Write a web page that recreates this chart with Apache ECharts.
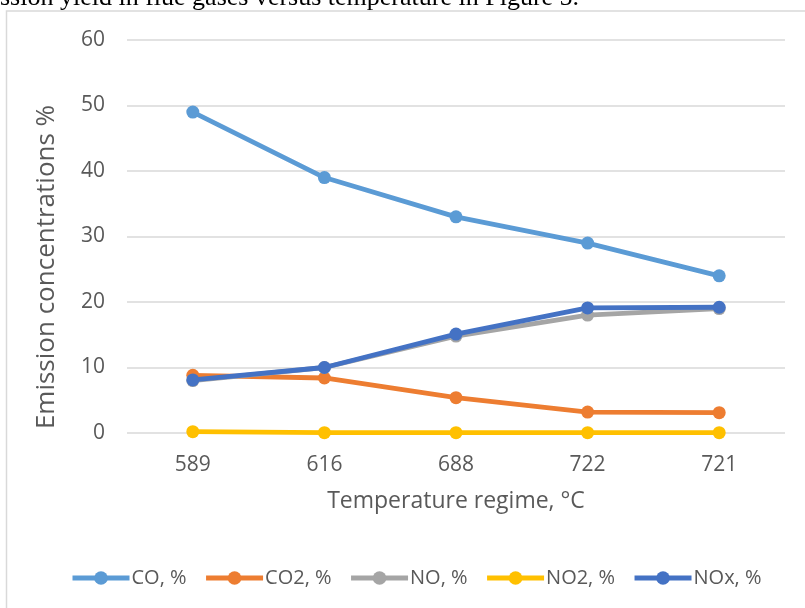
<!DOCTYPE html>
<html>
<head>
<meta charset="utf-8">
<script src="https://cdn.jsdelivr.net/npm/echarts@6/dist/echarts.min.js"></script>
<style>html,body{margin:0;padding:0;background:#fff;}#c{width:805px;height:608px;}</style>
</head>
<body>
<div id="c"></div>
<script>
var categories = ['589', '616', '688', '722', '721'];
var coValues = [49, 39, 33, 29, 24];
var co2Values = [8.8, 8.4, 5.4, 3.2, 3.1];
var noValues = [8.0, 10.0, 14.8, 18.0, 19.0];
var no2Values = [0.2, 0.05, 0.05, 0.05, 0.05];
var noxValues = [8.1, 10.0, 15.1, 19.1, 19.2];
var yTicks = [0, 10, 20, 30, 40, 50, 60];
var seriesNames = ['CO, %', 'CO2, %', 'NO, %', 'NO2, %', 'NOx, %'];
var seriesColors = ['#5B9BD5', '#ED7D31', '#A5A5A5', '#FFC000', '#4472C4'];
var seriesData = [coValues, co2Values, noValues, no2Values, noxValues];
var xTitle = 'Temperature regime, °C';
var yTitle = 'Emission concentrations %';
var topText = 'ssion yield in flue gases versus temperature in Figure 5.';

var font = 'Open Sans';
var chart = echarts.init(document.getElementById('c'), null, {renderer: 'canvas'});
var series = seriesNames.map(function (n, i) {
  return {
    name: n, type: 'line', data: seriesData[i],
    symbol: 'circle', symbolSize: 13,
    lineStyle: {width: 4.8, color: seriesColors[i]},
    itemStyle: {color: seriesColors[i]},
    z: i === 4 ? 5 : 3
  };
});
chart.setOption({
  animation: false,
  backgroundColor: '#fff',
  graphic: [
    {type: 'rect', shape: {x: 6.5, y: 11, width: 900, height: 700}, style: {fill: 'none', stroke: '#D9D9D9', lineWidth: 1.5}, z: -10},
    {type: 'text', x: 0, y: 11, style: {text: topText, fontSize: 26, fontFamily: 'Liberation Serif', fill: '#000', verticalAlign: 'bottom', align: 'left'}},
    {type: 'text', x: 47, y: 267, rotation: Math.PI / 2, style: {text: yTitle, fontSize: 26, fontFamily: font, fill: '#595959', align: 'center', verticalAlign: 'middle'}}
  ],
  grid: {left: 127, right: 20, top: 40, bottom: 175},
  xAxis: {
    type: 'category', data: categories, boundaryGap: true,
    axisLine: {show: false}, axisTick: {show: false},
    axisLabel: {color: '#595959', fontSize: 21, fontFamily: font, margin: 22},
    name: xTitle, nameLocation: 'middle', nameGap: 57,
    nameTextStyle: {color: '#595959', fontSize: 23, fontFamily: font}
  },
  yAxis: {
    type: 'value', min: yTicks[0], max: yTicks[yTicks.length - 1], interval: 10,
    axisLine: {show: false}, axisTick: {show: false},
    axisLabel: {color: '#595959', fontSize: 21, fontFamily: font, margin: 22},
    splitLine: {lineStyle: {color: '#D9D9D9', width: 1.5}}
  },
  legend: {
    top: 563, left: 65, itemWidth: 57, itemHeight: 17, itemGap: 17,
    lineStyle: {width: 5},
    textStyle: {color: '#595959', fontSize: 20, fontFamily: font, padding: [0, 0, 0, -3]},
    data: seriesNames
  },
  series: series
});
</script>
</body>
</html>
